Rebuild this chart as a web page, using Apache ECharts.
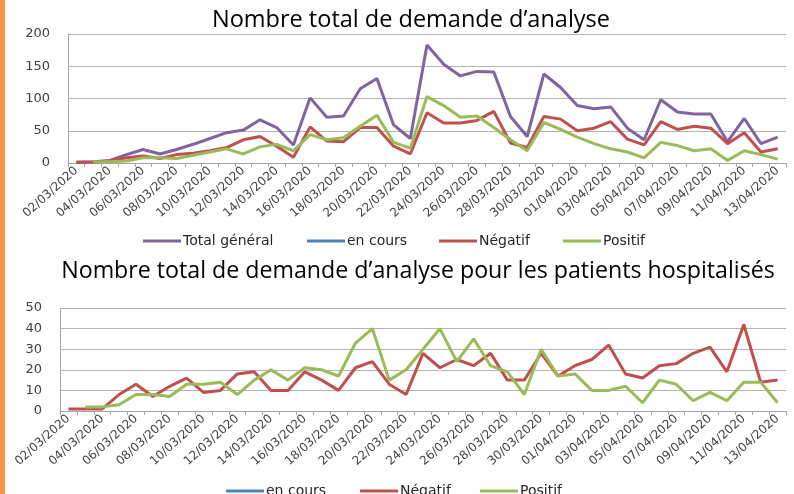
<!DOCTYPE html>
<html>
<head>
<meta charset="utf-8">
<script src="https://cdn.jsdelivr.net/npm/echarts@6/dist/echarts.min.js"></script>
<style>
html,body{margin:0;padding:0;background:#fff;}
#c{width:794px;height:494px;}
</style>
</head>
<body>
<div id="c"></div>
<script>
const dates = ["02/03/2020","03/03/2020","04/03/2020","05/03/2020","06/03/2020","07/03/2020","08/03/2020","09/03/2020","10/03/2020","11/03/2020","12/03/2020","13/03/2020","14/03/2020","15/03/2020","16/03/2020","17/03/2020","18/03/2020","19/03/2020","20/03/2020","21/03/2020","22/03/2020","23/03/2020","24/03/2020","25/03/2020","26/03/2020","27/03/2020","28/03/2020","29/03/2020","30/03/2020","31/03/2020","01/04/2020","02/04/2020","03/04/2020","04/04/2020","05/04/2020","06/04/2020","07/04/2020","08/04/2020","09/04/2020","10/04/2020","11/04/2020","12/04/2020","13/04/2020"];

// Chart 1: Nombre total de demande d'analyse
const total1 = [1,2,4,13,21,14,21,29,38,47,51,67,55,28,101,71,73,115,131,59,38,183,153,135,142,141,72,41,138,117,89,84,87,54,36,98,79,76,76,33,69,30,40];
const enCours1 = [];
const negatif1 = [1,1,3,8,11,7,13,15,19,24,36,41,26,9,56,34,33,55,55,26,14,78,62,62,66,80,31,24,72,68,50,54,64,37,28,64,52,57,54,30,47,17,22];
const positif1 = [null,2,2,3,8,8,7,12,17,22,14,25,29,19,44,36,39,57,74,32,23,103,89,71,73,55,36,19,63,52,40,30,22,17,8,32,27,19,22,4,19,13,6];

// Chart 2: patients hospitalisés
const enCours2 = [];
const negatif2 = [1,1,1,8,13,7,12,16,9,10,18,19,10,10,19,15,10,21,24,13,8,28,21,25,22,28,15,15,28,17,22,25,32,18,16,22,23,28,31,19,42,14,15];
const positif2 = [null,2,2,3,8,8,7,13,13,14,8,15,20,15,21,20,17,33,40,15,20,30,40,24,35,22,19,8,30,17,18,10,10,12,4,15,13,5,9,5,14,14,4];

const yTicks1 = {min:0, max:200, interval:50};
const yTicks2 = {min:0, max:50, interval:10};

const title1 = "Nombre total de demande d\u2019analyse";
const title2 = "Nombre total de demande d\u2019analyse pour les patients hospitalisés";

const C = {total:'#8064A2', cours:'#4F81BD', neg:'#C0504D', pos:'#9BBB59'};
const gridCol = '#b3b3b3';
const axisCol = '#a6a6a6';
const lblFont = 'DejaVu Sans';

function xAxis(gi){
  return {
    type:'category', gridIndex:gi, data:dates, boundaryGap:true,
    axisLine:{show:true, lineStyle:{color:axisCol, width:1}},
    axisTick:{show:true, interval:0, length:4, lineStyle:{color:axisCol}},
    axisLabel:{interval:1, rotate:42, margin:6, fontFamily:lblFont, fontSize:12, color:'#404040'},
    splitLine:{show:false}
  };
}
function yAxis(gi, t){
  return {
    type:'value', gridIndex:gi, min:t.min, max:t.max, interval:t.interval,
    axisLine:{show:true, lineStyle:{color:axisCol}},
    axisTick:{show:false},
    axisLabel:{margin:18, fontFamily:lblFont, fontSize:13, color:'#404040'},
    splitLine:{show:true, lineStyle:{color:gridCol, width:1}}
  };
}
function line(name, data, color, gi){
  return {
    type:'line', name:name, data:data, xAxisIndex:gi, yAxisIndex:gi,
    symbol:'none', showSymbol:false, connectNulls:false,
    lineStyle:{color:color, width:3}, itemStyle:{color:color},
    emphasis:{disabled:true}, animation:false
  };
}
function leg(name, left, top){
  return {
    data:[name], left:left, top:top, icon:'rect', itemWidth:38, itemHeight:3,
    itemGap:0, textStyle:{fontFamily:lblFont, fontSize:14, color:'#262626', padding:[0,0,0,-3]},
    selectedMode:false
  };
}

const chart = echarts.init(document.getElementById('c'), null, {renderer:'canvas'});
chart.setOption({
  animation:false,
  backgroundColor:'#ffffff',
  title:[
    {text:title1, left:406, top:3, textAlign:'center',
     textStyle:{fontFamily:'Open Sans', fontSize:23.5, fontWeight:'normal', color:'#000'}},
    {text:title2, left:413, top:255, textAlign:'center',
     textStyle:{fontFamily:'Open Sans', fontSize:23.2, fontWeight:'normal', color:'#000'}}
  ],
  graphic:[{type:'rect', left:0, top:0, shape:{width:5, height:494}, style:{fill:'#F79646'}, silent:true}],
  grid:[
    {left:68, right:8, top:34, height:129, containLabel:false},
    {left:60, right:8, top:308, height:103, containLabel:false}
  ],
  xAxis:[xAxis(0), xAxis(1)],
  yAxis:[yAxis(0, yTicks1), yAxis(1, yTicks2)],
  legend:[
    leg('Total général', 138, 229),
    leg('en cours', 302, 229),
    leg('Négatif', 434, 229),
    leg('Positif', 558, 229),
    leg('en cours', 221, 479),
    leg('Négatif', 355, 479),
    leg('Positif', 475, 479)
  ],
  series:[
    line('Total général', total1, C.total, 0),
    line('en cours', enCours1, C.cours, 0),
    line('Négatif', negatif1, C.neg, 0),
    line('Positif', positif1, C.pos, 0),
    line('en cours', enCours2, C.cours, 1),
    line('Négatif', negatif2, C.neg, 1),
    line('Positif', positif2, C.pos, 1)
  ]
});
</script>
</body>
</html>
